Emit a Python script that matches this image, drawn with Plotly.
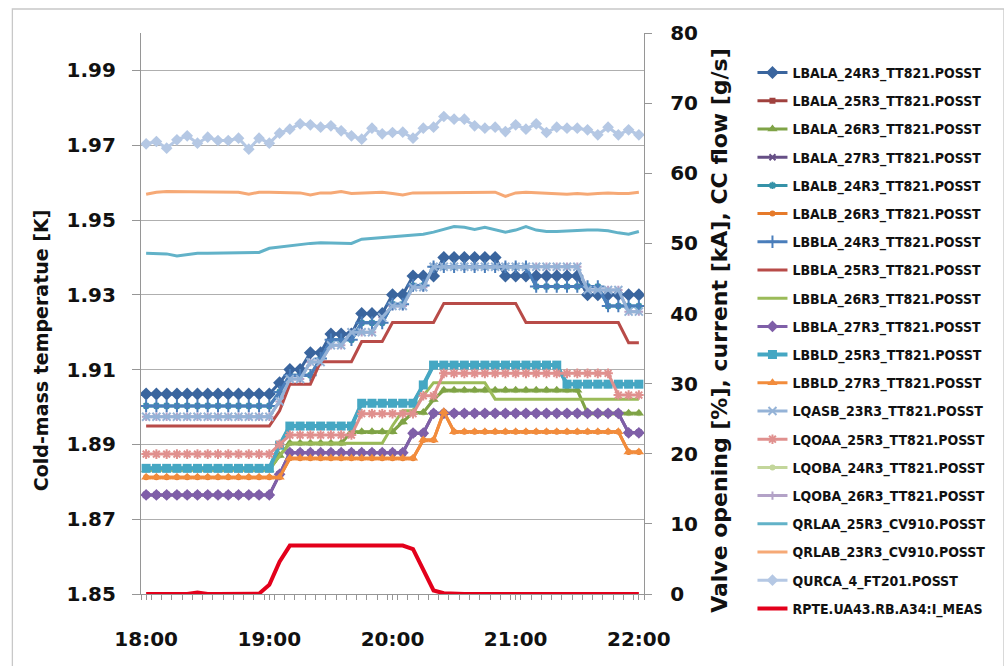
import pandas as pd
import plotly.graph_objects as go

# 5-minute samples, 18:00 .. 22:00
times = pd.date_range("2000-01-01 18:00", "2000-01-01 22:00", freq="5min")

# ---- cold-mass temperatures [K] (left axis) ----
LBALA_24R3 = [1.9035, 1.9035, 1.9035, 1.9035, 1.9035, 1.9035, 1.9035, 1.9035, 1.9035, 1.9035, 1.9035, 1.9035, 1.9035,
              1.9065, 1.9100, 1.9100, 1.9145, 1.9145, 1.9195, 1.9195, 1.9195, 1.9250, 1.9250, 1.9250, 1.9300,
              1.9300, 1.9350, 1.9350, 1.9350, 1.9400, 1.9400, 1.9400, 1.9400, 1.9400, 1.9400, 1.9350, 1.9350,
              1.9350, 1.9350, 1.9350, 1.9350, 1.9350, 1.9350, 1.9300, 1.9300, 1.9300, 1.9300, 1.9300, 1.9300]
LBALA_25R3 = [1.8836, 1.8836, 1.8836, 1.8836, 1.8836, 1.8836, 1.8836, 1.8836, 1.8836, 1.8836, 1.8836, 1.8836, 1.8836,
              1.8898, 1.8949, 1.8949, 1.8949, 1.8949, 1.8949, 1.8949, 1.8949, 1.9010, 1.9010, 1.9010, 1.9010,
              1.9010, 1.9010, 1.9059, 1.9112, 1.9112, 1.9112, 1.9112, 1.9112, 1.9112, 1.9112, 1.9112, 1.9112,
              1.9112, 1.9112, 1.9112, 1.9112, 1.9061, 1.9061, 1.9061, 1.9061, 1.9061, 1.9061, 1.9061, 1.9061]
LBALA_26R3 = [1.8832, 1.8832, 1.8832, 1.8832, 1.8832, 1.8832, 1.8832, 1.8832, 1.8832, 1.8832, 1.8832, 1.8832, 1.8832,
              1.8870, 1.8903, 1.8903, 1.8903, 1.8903, 1.8903, 1.8903, 1.8934, 1.8934, 1.8934, 1.8934, 1.8934,
              1.8960, 1.8985, 1.8985, 1.9020, 1.9045, 1.9045, 1.9045, 1.9045, 1.9045, 1.9045, 1.9045, 1.9045,
              1.9045, 1.9045, 1.9045, 1.9045, 1.9045, 1.9045, 1.8983, 1.8983, 1.8983, 1.8983, 1.8983, 1.8983]
LBALA_27R3 = [1.8765, 1.8765, 1.8765, 1.8765, 1.8765, 1.8765, 1.8765, 1.8765, 1.8765, 1.8765, 1.8765, 1.8765, 1.8765,
              1.8820, 1.8878, 1.8878, 1.8878, 1.8878, 1.8878, 1.8878, 1.8878, 1.8878, 1.8878, 1.8878, 1.8878,
              1.8878, 1.8930, 1.8930, 1.8983, 1.8983, 1.8983, 1.8983, 1.8983, 1.8983, 1.8983, 1.8983, 1.8983,
              1.8983, 1.8983, 1.8983, 1.8983, 1.8983, 1.8983, 1.8983, 1.8983, 1.8983, 1.8983, 1.8931, 1.8931]
LBALB_24R3 = [1.9003, 1.9003, 1.9003, 1.9003, 1.9003, 1.9003, 1.9003, 1.9003, 1.9003, 1.9003, 1.9003, 1.9003, 1.9003,
              1.9040, 1.9085, 1.9085, 1.9085, 1.9130, 1.9180, 1.9180, 1.9180, 1.9225, 1.9225, 1.9225, 1.9275,
              1.9275, 1.9325, 1.9325, 1.9375, 1.9375, 1.9375, 1.9375, 1.9375, 1.9375, 1.9375, 1.9375, 1.9375,
              1.9375, 1.9322, 1.9322, 1.9322, 1.9322, 1.9322, 1.9322, 1.9322, 1.9270, 1.9270, 1.9270, 1.9270]
LBALB_26R3 = [1.8812, 1.8812, 1.8812, 1.8812, 1.8812, 1.8812, 1.8812, 1.8812, 1.8812, 1.8812, 1.8812, 1.8812, 1.8812,
              1.8812, 1.8863, 1.8863, 1.8863, 1.8863, 1.8863, 1.8863, 1.8863, 1.8863, 1.8863, 1.8863, 1.8863,
              1.8863, 1.8863, 1.8912, 1.8912, 1.8987, 1.8934, 1.8934, 1.8934, 1.8934, 1.8934, 1.8934, 1.8934,
              1.8934, 1.8934, 1.8934, 1.8934, 1.8934, 1.8934, 1.8934, 1.8934, 1.8934, 1.8934, 1.8880, 1.8880]
LBBLA_24R3 = [1.9003, 1.9003, 1.9003, 1.9003, 1.9003, 1.9003, 1.9003, 1.9003, 1.9003, 1.9003, 1.9003, 1.9003, 1.9003,
              1.9040, 1.9085, 1.9085, 1.9085, 1.9130, 1.9180, 1.9180, 1.9180, 1.9225, 1.9225, 1.9225, 1.9275,
              1.9275, 1.9325, 1.9325, 1.9375, 1.9375, 1.9375, 1.9375, 1.9375, 1.9375, 1.9375, 1.9375, 1.9375,
              1.9375, 1.9322, 1.9322, 1.9322, 1.9322, 1.9322, 1.9322, 1.9322, 1.9270, 1.9270, 1.9270, 1.9270]
LBBLA_25R3 = [1.8949, 1.8949, 1.8949, 1.8949, 1.8949, 1.8949, 1.8949, 1.8949, 1.8949, 1.8949, 1.8949, 1.8949, 1.8949,
              1.8990, 1.9061, 1.9061, 1.9061, 1.9121, 1.9121, 1.9121, 1.9121, 1.9175, 1.9175, 1.9175, 1.9226,
              1.9226, 1.9226, 1.9226, 1.9226, 1.9277, 1.9277, 1.9277, 1.9277, 1.9277, 1.9277, 1.9277, 1.9277,
              1.9226, 1.9226, 1.9226, 1.9226, 1.9226, 1.9226, 1.9226, 1.9226, 1.9226, 1.9226, 1.9172, 1.9172]
LBBLA_26R3 = [1.8832, 1.8832, 1.8832, 1.8832, 1.8832, 1.8832, 1.8832, 1.8832, 1.8832, 1.8832, 1.8832, 1.8832, 1.8832,
              1.8870, 1.8903, 1.8903, 1.8903, 1.8903, 1.8903, 1.8903, 1.8903, 1.8903, 1.8903, 1.8903, 1.8950,
              1.8990, 1.8990, 1.9030, 1.9065, 1.9065, 1.9065, 1.9065, 1.9065, 1.9065, 1.9021, 1.9021, 1.9021,
              1.9021, 1.9021, 1.9021, 1.9021, 1.9021, 1.9021, 1.9021, 1.9021, 1.9021, 1.9021, 1.9021, 1.9021]
LBBLA_27R3 = [1.8765, 1.8765, 1.8765, 1.8765, 1.8765, 1.8765, 1.8765, 1.8765, 1.8765, 1.8765, 1.8765, 1.8765, 1.8765,
              1.8820, 1.8878, 1.8878, 1.8878, 1.8878, 1.8878, 1.8878, 1.8878, 1.8878, 1.8878, 1.8878, 1.8878,
              1.8878, 1.8930, 1.8930, 1.8983, 1.8983, 1.8983, 1.8983, 1.8983, 1.8983, 1.8983, 1.8983, 1.8983,
              1.8983, 1.8983, 1.8983, 1.8983, 1.8983, 1.8983, 1.8983, 1.8983, 1.8983, 1.8983, 1.8931, 1.8931]
LBBLD_25R3 = [1.8836, 1.8836, 1.8836, 1.8836, 1.8836, 1.8836, 1.8836, 1.8836, 1.8836, 1.8836, 1.8836, 1.8836, 1.8836,
              1.8898, 1.8949, 1.8949, 1.8949, 1.8949, 1.8949, 1.8949, 1.8949, 1.9010, 1.9010, 1.9010, 1.9010,
              1.9010, 1.9010, 1.9059, 1.9112, 1.9112, 1.9112, 1.9112, 1.9112, 1.9112, 1.9112, 1.9112, 1.9112,
              1.9112, 1.9112, 1.9112, 1.9112, 1.9061, 1.9061, 1.9061, 1.9061, 1.9061, 1.9061, 1.9061, 1.9061]
LBBLD_27R3 = [1.8812, 1.8812, 1.8812, 1.8812, 1.8812, 1.8812, 1.8812, 1.8812, 1.8812, 1.8812, 1.8812, 1.8812, 1.8812,
              1.8812, 1.8863, 1.8863, 1.8863, 1.8863, 1.8863, 1.8863, 1.8863, 1.8863, 1.8863, 1.8863, 1.8863,
              1.8863, 1.8863, 1.8912, 1.8912, 1.8987, 1.8934, 1.8934, 1.8934, 1.8934, 1.8934, 1.8934, 1.8934,
              1.8934, 1.8934, 1.8934, 1.8934, 1.8934, 1.8934, 1.8934, 1.8934, 1.8934, 1.8934, 1.8880, 1.8880]
LQASB_23R3 = [1.8974, 1.8974, 1.8974, 1.8974, 1.8974, 1.8974, 1.8974, 1.8974, 1.8974, 1.8974, 1.8974, 1.8974, 1.8974,
              1.9015, 1.9075, 1.9075, 1.9120, 1.9120, 1.9165, 1.9165, 1.9200, 1.9200, 1.9200, 1.9240, 1.9270,
              1.9270, 1.9320, 1.9320, 1.9375, 1.9375, 1.9375, 1.9375, 1.9375, 1.9375, 1.9375, 1.9375, 1.9375,
              1.9375, 1.9375, 1.9375, 1.9375, 1.9375, 1.9375, 1.9313, 1.9313, 1.9313, 1.9313, 1.9255, 1.9255]
LQOAA_25R3 = [1.8874, 1.8874, 1.8874, 1.8874, 1.8874, 1.8874, 1.8874, 1.8874, 1.8874, 1.8874, 1.8874, 1.8874, 1.8874,
              1.8900, 1.8925, 1.8925, 1.8925, 1.8925, 1.8925, 1.8925, 1.8925, 1.8982, 1.8982, 1.8982, 1.8982,
              1.8982, 1.8982, 1.9030, 1.9030, 1.9090, 1.9090, 1.9090, 1.9090, 1.9090, 1.9090, 1.9090, 1.9090,
              1.9090, 1.9090, 1.9090, 1.9090, 1.9090, 1.9090, 1.9090, 1.9090, 1.9090, 1.9032, 1.9032, 1.9032]
LQOBA_24R3 = [1.8832, 1.8832, 1.8832, 1.8832, 1.8832, 1.8832, 1.8832, 1.8832, 1.8832, 1.8832, 1.8832, 1.8832, 1.8832,
              1.8870, 1.8903, 1.8903, 1.8903, 1.8903, 1.8903, 1.8903, 1.8934, 1.8934, 1.8934, 1.8934, 1.8934,
              1.8960, 1.8985, 1.8985, 1.9020, 1.9045, 1.9045, 1.9045, 1.9045, 1.9045, 1.9045, 1.9045, 1.9045,
              1.9045, 1.9045, 1.9045, 1.9045, 1.9045, 1.9045, 1.8983, 1.8983, 1.8983, 1.8983, 1.8983, 1.8983]
LQOBA_26R3 = [1.8974, 1.8974, 1.8974, 1.8974, 1.8974, 1.8974, 1.8974, 1.8974, 1.8974, 1.8974, 1.8974, 1.8974, 1.8974,
              1.9015, 1.9075, 1.9075, 1.9120, 1.9120, 1.9165, 1.9165, 1.9200, 1.9200, 1.9200, 1.9240, 1.9270,
              1.9270, 1.9320, 1.9320, 1.9375, 1.9375, 1.9375, 1.9375, 1.9375, 1.9375, 1.9375, 1.9375, 1.9375,
              1.9375, 1.9375, 1.9375, 1.9375, 1.9375, 1.9375, 1.9313, 1.9313, 1.9313, 1.9313, 1.9255, 1.9255]

# ---- valve openings [%], CC flow [g/s], current [kA] (right axis) ----
QRLAA_25R3 = [48.6, 48.6, 48.5, 48.2, 48.4, 48.6, 48.6, 48.6, 48.6, 48.6, 48.6, 48.7, 49.3,
              49.5, 49.6, 49.8, 50.0, 50.1, 50.1, 50.0, 50.0, 50.6, 50.7, 50.9, 51.0,
              51.0, 51.2, 51.3, 51.6, 52.0, 52.4, 52.3, 52.0, 52.3, 52.0, 51.6, 51.9,
              52.4, 51.9, 51.7, 51.7, 51.8, 51.8, 51.9, 51.9, 51.8, 51.5, 51.3, 51.7]
QRLAB_23R3 = [57.0, 57.3, 57.4, 57.4, 57.3, 57.3, 57.3, 57.3, 57.3, 57.3, 57.0, 57.3, 57.3,
              57.3, 57.3, 57.2, 56.9, 57.2, 57.2, 57.4, 57.1, 57.2, 57.3, 57.3, 57.1,
              56.9, 57.2, 57.2, 57.3, 57.3, 57.3, 57.2, 57.2, 57.3, 57.3, 56.7, 57.2,
              57.3, 57.2, 57.1, 57.0, 57.0, 57.1, 57.0, 57.1, 57.2, 57.1, 57.1, 57.3]
QURCA_4 = [64.19, 64.53, 63.58, 64.76, 65.34, 64.29, 65.15, 64.67, 64.67, 65.00, 63.43, 65.00, 64.29,
           65.72, 66.29, 67.05, 66.90, 66.57, 66.76, 66.05, 65.34, 64.86, 66.43, 65.62, 65.81,
           65.86, 65.00, 66.43, 66.57, 68.09, 67.71, 67.71, 66.76, 66.43, 66.57, 65.95, 66.90,
           66.29, 67.05, 65.81, 66.57, 66.43, 66.43, 66.19, 65.48, 66.57, 65.48, 66.19, 65.48]
RPTE_I_MEAS = [0.0, 0.0, 0.0, 0.0, 0.0, 0.2, 0.0, 0.0, 0.0, 0.0, 0.0, 0.05, 1.3,
               4.6, 6.9, 6.9, 6.9, 6.9, 6.9, 6.9, 6.9, 6.9, 6.9, 6.9, 6.9,
               6.9, 6.4, 3.4, 0.5, 0.1, 0.0, 0.0, 0.0, 0.0, 0.0, 0.0, 0.0,
               0.0, 0.0, 0.0, 0.0, 0.0, 0.0, 0.0, 0.0, 0.0, 0.0, 0.0, 0.0]

# legend order, styling: (name, values, axis, colour, symbol, marker size, line width)
series = [
    ("LBALA_24R3_TT821.POSST", LBALA_24R3, "y", "#3A659E", "diamond", 10, 3),
    ("LBALA_25R3_TT821.POSST", LBALA_25R3, "y", "#A0413E", "square", 6, 3),
    ("LBALA_26R3_TT821.POSST", LBALA_26R3, "y", "#7FA346", "triangle-up", 9, 3),
    ("LBALA_27R3_TT821.POSST", LBALA_27R3, "y", "#664F86", "x-thin", 6, 3),
    ("LBALB_24R3_TT821.POSST", LBALB_24R3, "y", "#3592A8", "asterisk", 6, 3),
    ("LBALB_26R3_TT821.POSST", LBALB_26R3, "y", "#E67A2A", "circle", 6, 3),
    ("LBBLA_24R3_TT821.POSST", LBBLA_24R3, "y", "#4A7EBB", "cross-thin", 9, 3),
    ("LBBLA_25R3_TT821.POSST", LBBLA_25R3, "y", "#B84B48", None, 0, 3),
    ("LBBLA_26R3_TT821.POSST", LBBLA_26R3, "y", "#9BBB59", None, 0, 3),
    ("LBBLA_27R3_TT821.POSST", LBBLA_27R3, "y", "#7F5FA8", "diamond", 9, 3),
    ("LBBLD_25R3_TT821.POSST", LBBLD_25R3, "y", "#45A7C3", "square", 9, 4),
    ("LBBLD_27R3_TT821.POSST", LBBLD_27R3, "y", "#F28C3C", "triangle-up", 9, 3),
    ("LQASB_23R3_TT821.POSST", LQASB_23R3, "y", "#95B3D7", "x-thin", 8, 3),
    ("LQOAA_25R3_TT821.POSST", LQOAA_25R3, "y", "#E0908E", "asterisk", 8, 3),
    ("LQOBA_24R3_TT821.POSST", LQOBA_24R3, "y", "#C3D69B", "circle", 6, 3),
    ("LQOBA_26R3_TT821.POSST", LQOBA_26R3, "y", "#B3A2C7", "cross-thin", 6, 3),
    ("QRLAA_25R3_CV910.POSST", QRLAA_25R3, "y2", "#62B2C8", None, 0, 3),
    ("QRLAB_23R3_CV910.POSST", QRLAB_23R3, "y2", "#F6A976", None, 0, 3),
    ("QURCA_4_FT201.POSST", QURCA_4, "y2", "#B5C8E4", "diamond", 9, 3),
    ("RPTE.UA43.RB.A34:I_MEAS", RPTE_I_MEAS, "y2", "#E3001B", None, 0, 4),
]

# series that sit underneath others are drawn first
draw_first = {"LBALA_25R3_TT821.POSST", "LBALA_27R3_TT821.POSST", "LBALB_24R3_TT821.POSST",
              "LBALB_26R3_TT821.POSST", "LQOBA_24R3_TT821.POSST", "LQOBA_26R3_TT821.POSST"}
ranked = list(enumerate(series))
ordered = [r for r in ranked if r[1][0] in draw_first] + [r for r in ranked if r[1][0] not in draw_first]

fig = go.Figure()
for rank, (name, vals, axis, col, sym, msize, lw) in ordered:
    if sym is None:
        mode = "lines"
        marker = None
    else:
        mode = "lines+markers"
        thin = sym in ("x-thin", "cross-thin", "asterisk")
        marker = dict(symbol=sym, size=msize, color=col,
                      line=dict(width=2 if thin else 0, color=col))
    fig.add_trace(go.Scatter(
        x=times, y=vals, name=name, yaxis=axis, mode=mode,
        line=dict(color=col, width=lw), marker=marker,
        legendrank=100 + rank * 10, legendgroup=name,
    ))

GRID = "#AFAFAF"
AXIS = "#969696"
TICKFONT = dict(family="DejaVu Sans", size=20, color="#111111", weight="bold")

# plot-area pixel geometry (figure 1004 x 666)
L, R, T, B = 141, 665, 33, 594
W, H = R - L, B - T


def px(xp):
    return (xp - L) / W


def py(yp):
    return (B - yp) / H


fig.update_layout(
    width=1004, height=666,
    margin=dict(l=L, r=1004 - R, t=T, b=666 - B),
    paper_bgcolor="white", plot_bgcolor="white",
    showlegend=True,
    legend=dict(
        x=px(778), y=py(57), xanchor="left", yanchor="top",
        font=dict(family="DejaVu Sans Condensed, Liberation Sans Narrow, sans-serif",
                  size=14, color="#111111", weight="bold"),
        tracegroupgap=7, bgcolor="rgba(0,0,0,0)", itemwidth=30, maxheight=650,
    ),
    xaxis=dict(
        type="date",
        range=["2000-01-01 17:57:30", "2000-01-01 22:02:30"],
        tickformat="%H:%M", dtick=3600000, tick0="2000-01-01 18:00",
        ticks="outside", ticklen=5, tickcolor=AXIS, tickwidth=1,
        showgrid=False, zeroline=False,
        showline=True, linecolor=AXIS, linewidth=1.3,
        tickfont=TICKFONT, ticklabelstandoff=22,
        minor=dict(ticks="outside", dtick=300000, tick0="2000-01-01 17:57:30",
                   ticklen=5, tickcolor=AXIS, tickwidth=1, showgrid=False),
    ),
    yaxis=dict(
        range=[1.85, 2.0], dtick=0.02, tick0=1.85, tickformat=".2f",
        showgrid=True, gridcolor=GRID, gridwidth=1.3, zeroline=False,
        showline=True, linecolor=AXIS, linewidth=1.3,
        ticks="outside", ticklen=8, tickcolor=AXIS,
        tickfont=TICKFONT, ticklabelstandoff=12,
    ),
    yaxis2=dict(
        range=[0, 80], dtick=10, overlaying="y", side="right", anchor="x",
        showgrid=False, zeroline=False,
        showline=True, linecolor=AXIS, linewidth=1.3,
        ticks="outside", ticklen=7, tickcolor=AXIS,
        tickfont=TICKFONT, ticklabelstandoff=14,
    ),
    annotations=[
        dict(text="Cold-mass temperatue [K]", xref="paper", yref="paper",
             x=px(37), y=py(350), xanchor="center", yanchor="middle",
             textangle=-90, showarrow=False,
             font=dict(family="DejaVu Sans", size=19, color="#111111", weight="bold")),
        dict(text="Valve opening [%], current [kA], CC flow [g/s]", xref="paper", yref="paper",
             x=px(743), y=py(330), xanchor="center", yanchor="middle",
             textangle=-90, showarrow=False,
             font=dict(family="DejaVu Sans", size=22, color="#111111", weight="bold")),
    ],
    shapes=[
        dict(type="rect", xref="paper", yref="paper",
             x0=px(7), y0=py(700), x1=px(1040), y1=py(9),
             line=dict(color="#C8C8C8", width=1.3), fillcolor="rgba(0,0,0,0)", layer="below"),
    ],
)

fig.write_html("out.html")
